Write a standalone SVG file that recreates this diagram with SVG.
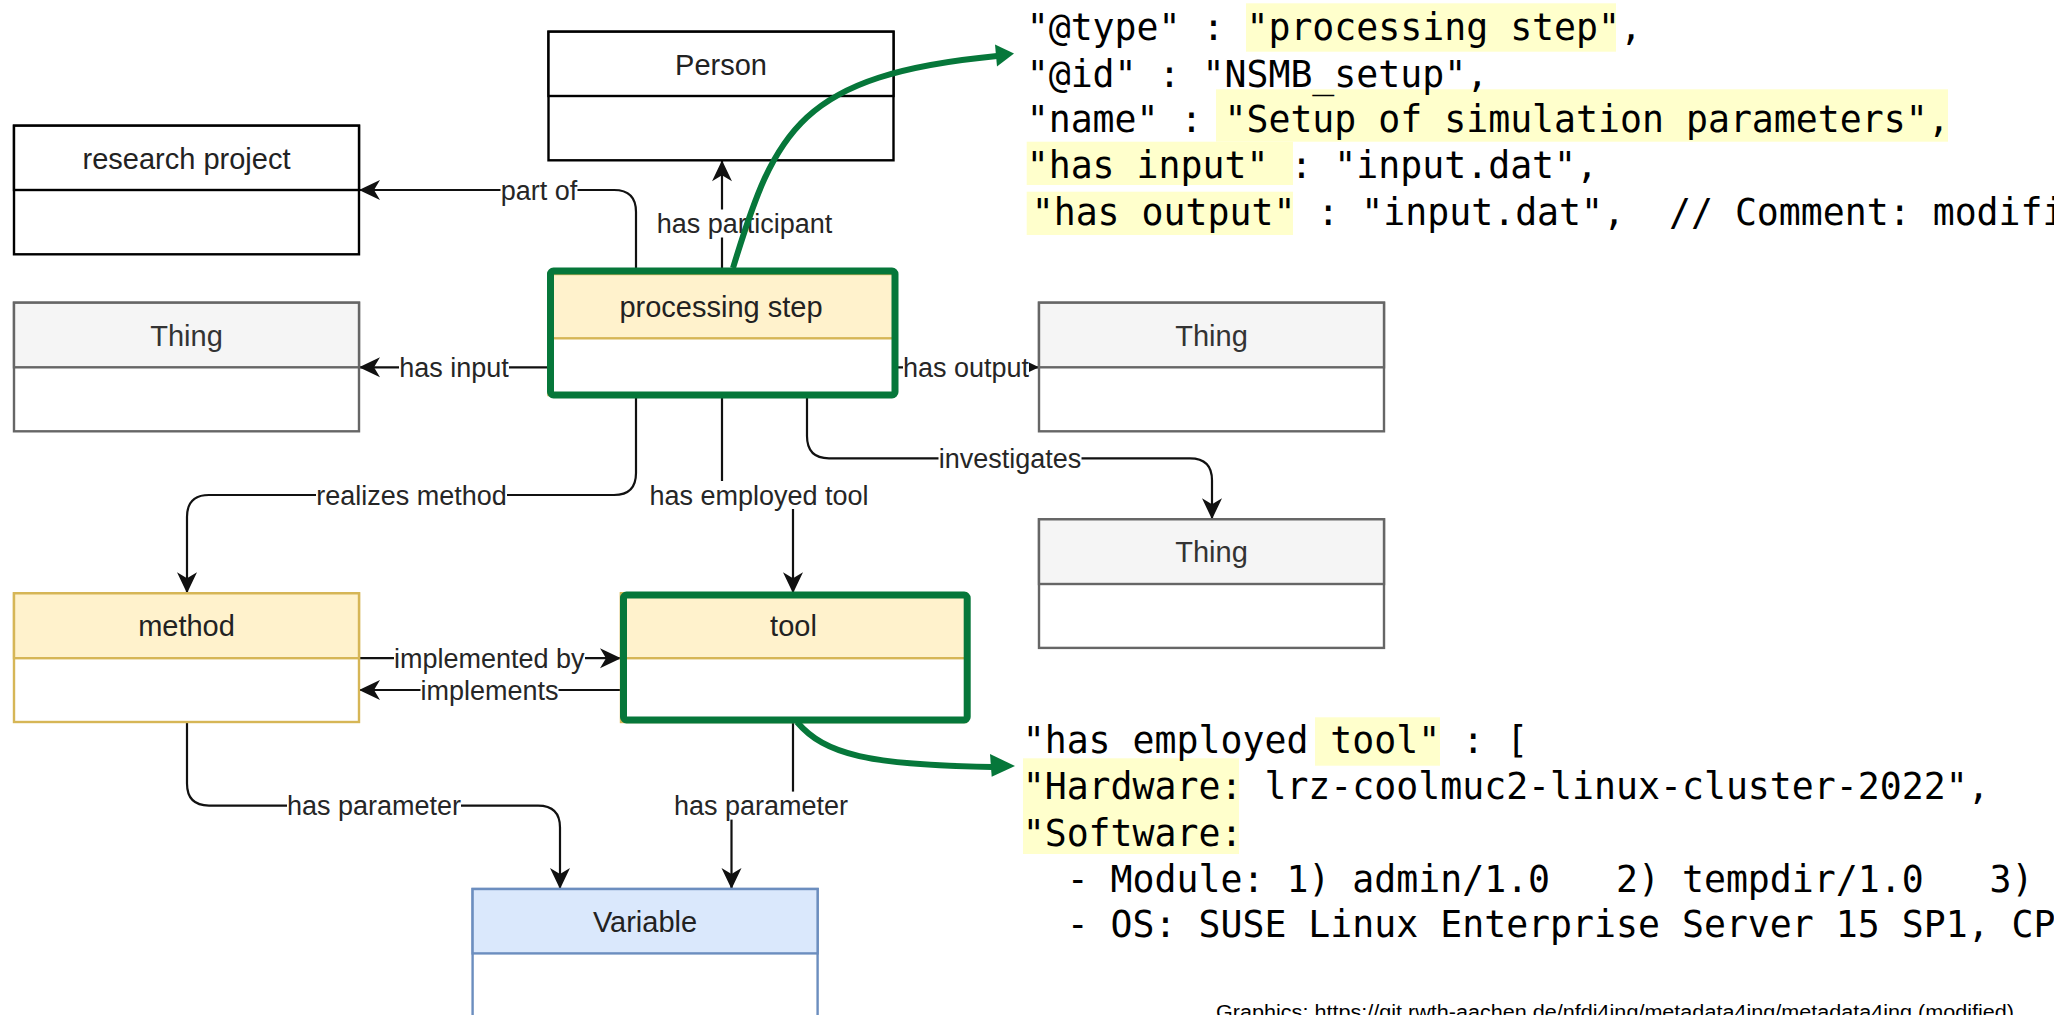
<svg xmlns="http://www.w3.org/2000/svg" width="2054" height="1015" viewBox="0 0 2054 1015">
<defs>
<style>
.body{fill:#ffffff;stroke-width:2.4}
.head{stroke-width:2.4}
.plain .body,.plain .head{stroke:#000000}
.plain .head{fill:#ffffff}
.gray .body,.gray .head{stroke:#666666}
.gray .head{fill:#f5f5f5}
.yellow .body,.yellow .head{stroke:#d6b656}
.yellow .head{fill:#fff2cc}
.blue .body,.blue .head{stroke:#6c8ebf}
.blue .head{fill:#dae8fc}
.title{font-family:"Liberation Sans",Arial,sans-serif;font-size:29px;fill:#222222;text-anchor:middle}
.gray .title{fill:#333333}
.edge{fill:none;stroke:#111111;stroke-width:2.2}
.arr{marker-end:url(#ah)}
.lbg{fill:#ffffff}
.lbl{font-family:"Liberation Sans",Arial,sans-serif;font-size:27px;fill:#262626;text-anchor:middle}
.frame{fill:none;stroke:#06773a;stroke-width:7}
.gcurve{fill:none;stroke:#06773a;stroke-width:6}
.gtip{fill:#06773a}
.hl{fill:#ffffcc}
.code{font-family:"DejaVu Sans Mono","Liberation Mono",monospace;font-size:36.5px;fill:#000000}
.foot{font-family:"Liberation Sans",Arial,sans-serif;font-size:20px;fill:#000000}
</style>
<marker id="ah" markerUnits="userSpaceOnUse" markerWidth="26" markerHeight="26" viewBox="-23 -13 26 26" refX="0" refY="0" orient="auto">
<path d="M0,0 L-21,-10 L-15,0 L-21,10 Z" fill="#111111"/>
</marker>
</defs>
<rect x="0" y="0" width="2054" height="1015" fill="#ffffff"/>

<g id="connectors">
<path class="edge arr" d="M636,274 L636,212 Q636,190 614,190 L359,190"/>
<path class="edge arr" d="M722,274 L722,160.3"/>
<path class="edge arr" d="M548.5,367.3 L359,367.3"/>
<path class="edge arr" d="M893.5,367.3 L1039,367.3"/>
<path class="edge arr" d="M636,395 L636,473 Q636,495 614,495 L209,495 Q187,495 187,517 L187,593.3"/>
<path class="edge arr" d="M722,395 L722,495 L793,495 L793,593.3"/>
<path class="edge arr" d="M807,395 L807,436 Q807,458.3 829,458.3 L1190,458.3 Q1212,458.3 1212,480.3 L1212,519.3"/>
<path class="edge arr" d="M359,658.2 L621,658.2"/>
<path class="edge arr" d="M621,690 L359,690"/>
<path class="edge arr" d="M187,722 L187,783.6 Q187,805.6 209,805.6 L538,805.6 Q560,805.6 560,827.6 L560,889"/>
<path class="edge arr" d="M793,722 L793,805.6 L731.5,805.6 L731.5,889"/>

<g id="edge-labels">
<rect class="lbg" x="500.5" y="176" width="77" height="28"/>
<text class="lbl" x="539" y="199.7">part of</text>
<rect class="lbg" x="656.5" y="209.5" width="176" height="28"/>
<text class="lbl" x="744.5" y="233.2">has participant</text>
<rect class="lbg" x="399" y="353.3" width="110" height="28"/>
<text class="lbl" x="454" y="377">has input</text>
<rect class="lbg" x="903" y="353.3" width="126" height="28"/>
<text class="lbl" x="966" y="377">has output</text>
<rect class="lbg" x="316" y="481" width="191" height="28"/>
<text class="lbl" x="411.5" y="504.7">realizes method</text>
<rect class="lbg" x="649" y="481" width="220" height="28"/>
<text class="lbl" x="759" y="504.7">has employed tool</text>
<rect class="lbg" x="938.5" y="444.3" width="143" height="28"/>
<text class="lbl" x="1010" y="468">investigates</text>
<rect class="lbg" x="394" y="644.2" width="191" height="28"/>
<text class="lbl" x="489.3" y="667.9">implemented by</text>
<rect class="lbg" x="420.5" y="676" width="138" height="28"/>
<text class="lbl" x="489.5" y="699.7">implements</text>
<rect class="lbg" x="287" y="791.6" width="174" height="28"/>
<text class="lbl" x="374" y="815.3">has parameter</text>
<rect class="lbg" x="674" y="791.6" width="174" height="28"/>
<text class="lbl" x="761" y="815.3">has parameter</text>
</g>
</g>

<g id="node-person" class="plain">
<rect class="body" x="548.5" y="31.7" width="345" height="128.6"/>
<rect class="head" x="548.5" y="31.7" width="345" height="64.3"/>
<text class="title" x="721" y="74.5">Person</text>
</g>
<g id="node-research-project" class="plain">
<rect class="body" x="14" y="125.7" width="345" height="128.6"/>
<rect class="head" x="14" y="125.7" width="345" height="64.3"/>
<text class="title" x="186.5" y="168.5">research project</text>
</g>
<g id="node-thing-input" class="gray">
<rect class="body" x="14" y="302.7" width="345" height="128.6"/>
<rect class="head" x="14" y="302.7" width="345" height="64.6"/>
<text class="title" x="186.5" y="345.5">Thing</text>
</g>
<g id="node-processing-step" class="yellow">
<rect class="body" x="548.5" y="274" width="345" height="121"/>
<rect class="head" x="548.5" y="274" width="345" height="64.3"/>
<text class="title" x="721" y="316.8">processing step</text>
</g>
<g id="node-thing-output" class="gray">
<rect class="body" x="1039" y="302.7" width="345" height="128.6"/>
<rect class="head" x="1039" y="302.7" width="345" height="64.6"/>
<text class="title" x="1211.5" y="345.5">Thing</text>
</g>
<g id="node-thing-investigated" class="gray">
<rect class="body" x="1039" y="519.3" width="345" height="128.6"/>
<rect class="head" x="1039" y="519.3" width="345" height="64.7"/>
<text class="title" x="1211.5" y="562">Thing</text>
</g>
<g id="node-method" class="yellow">
<rect class="body" x="14" y="593.3" width="345" height="128.7"/>
<rect class="head" x="14" y="593.3" width="345" height="64.9"/>
<text class="title" x="186.5" y="636">method</text>
</g>
<g id="node-tool" class="yellow">
<rect class="body" x="621" y="593.3" width="345" height="128.7"/>
<rect class="head" x="621" y="593.3" width="345" height="64.9"/>
<text class="title" x="793.5" y="636">tool</text>
</g>
<g id="node-variable" class="blue">
<rect class="body" x="472.6" y="889" width="345" height="128.6"/>
<rect class="head" x="472.6" y="889" width="345" height="64.4"/>
<text class="title" x="645" y="931.7">Variable</text>
</g>

<g id="highlight-frames">
<rect class="frame" x="550.5" y="271" width="344.5" height="124" rx="3"/>
<rect class="frame" x="623.5" y="595" width="343.7" height="125" rx="3"/>
</g>

<g id="highlight-arrows">
<path class="gcurve" d="M733,268 C775,130 800,75 997,56"/>
<polygon class="gtip" points="1014,53.5 995,44.5 997,66.5"/>
<path class="gcurve" d="M797,722 C825,755 870,765 992,767"/>
<polygon class="gtip" points="1015,766 990,754 991.7,776.7"/>
</g>

<g id="code-top">
<rect class="hl" x="1246" y="3.3" width="370" height="48.4"/>
<rect class="hl" x="1216" y="89.3" width="732" height="52.4"/>
<rect class="hl" x="1026.7" y="141.7" width="266.3" height="43.3"/>
<rect class="hl" x="1026.7" y="191.7" width="266.3" height="43.3"/>
<text class="code" xml:space="preserve" x="1026.7" y="40">"@type" : "processing step",</text>
<text class="code" xml:space="preserve" x="1026.7" y="86.5">"@id" : "NSMB_setup",</text>
<text class="code" xml:space="preserve" x="1026.7" y="132">"name" : "Setup of simulation parameters",</text>
<text class="code" xml:space="preserve" x="1026.7" y="178">"has input" : "input.dat",</text>
<text class="code" xml:space="preserve" x="1031.7" y="225">"has output" : "input.dat",  // Comment: modifi</text>
</g>

<g id="code-bottom">
<rect class="hl" x="1315" y="717.3" width="125" height="48.4"/>
<rect class="hl" x="1023" y="758.3" width="216" height="95.7"/>
<text class="code" xml:space="preserve" x="1022.7" y="753.3">"has employed tool" : [</text>
<text class="code" xml:space="preserve" x="1022.7" y="799.3">"Hardware: lrz-coolmuc2-linux-cluster-2022",</text>
<text class="code" xml:space="preserve" x="1022.7" y="846">"Software:</text>
<text class="code" xml:space="preserve" x="1022.7" y="891.7">  - Module: 1) admin/1.0   2) tempdir/1.0   3)</text>
<text class="code" xml:space="preserve" x="1022.7" y="937.3">  - OS: SUSE Linux Enterprise Server 15 SP1, CP</text>
</g>

<text class="foot" x="1216" y="1019" textLength="798" lengthAdjust="spacingAndGlyphs">Graphics: https://git.rwth-aachen.de/nfdi4ing/metadata4ing/metadata4ing (modified)</text>
</svg>
